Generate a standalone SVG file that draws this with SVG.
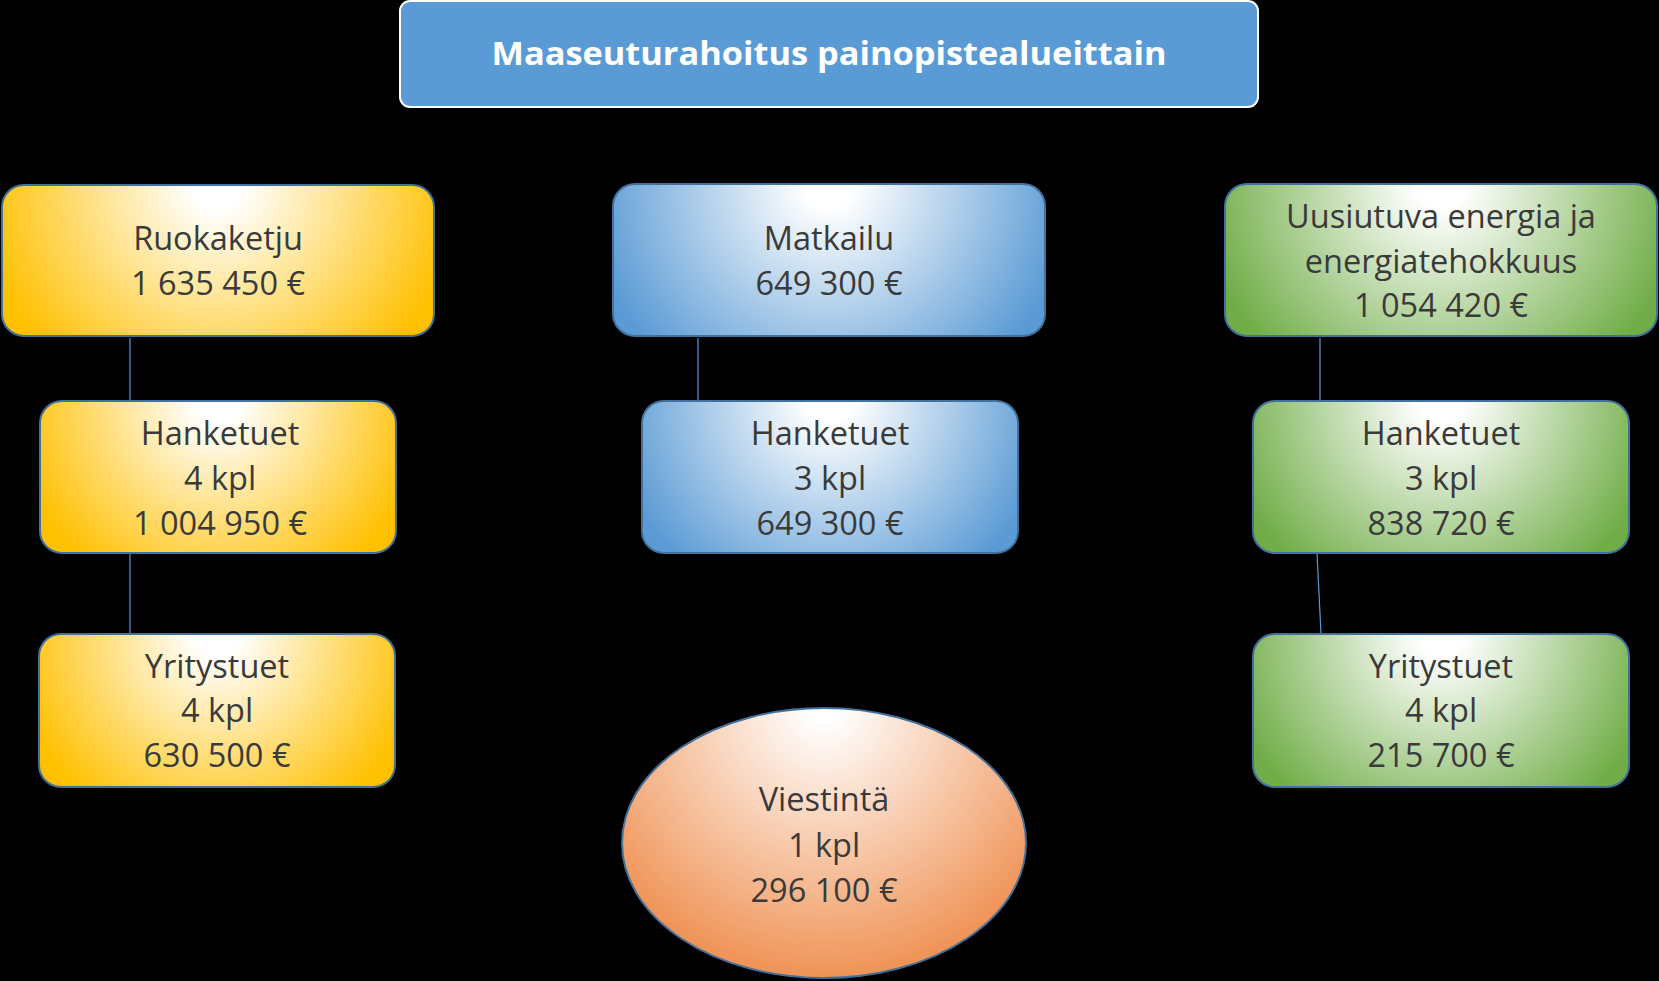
<svg xmlns="http://www.w3.org/2000/svg" width="1659" height="981" viewBox="0 0 1659 981">
<defs>
<radialGradient id="gY" cx="0.5" cy="0" r="0.556" gradientTransform="translate(0.5 0) scale(1 2.84) translate(-0.5 0)"><stop offset="0" stop-color="#ffffff"/><stop offset="0.1" stop-color="#ffffff"/><stop offset="1" stop-color="#ffc000"/></radialGradient>
<radialGradient id="gY2" cx="0.5" cy="0" r="0.58" gradientTransform="translate(0.5 0) scale(1 2.4) translate(-0.5 0)"><stop offset="0" stop-color="#ffffff"/><stop offset="0.1" stop-color="#ffffff"/><stop offset="1" stop-color="#ffc000"/></radialGradient>
<radialGradient id="gB" cx="0.5" cy="0" r="0.556" gradientTransform="translate(0.5 0) scale(1 2.84) translate(-0.5 0)"><stop offset="0" stop-color="#ffffff"/><stop offset="0.1" stop-color="#ffffff"/><stop offset="1" stop-color="#5b9bd5"/></radialGradient>
<radialGradient id="gB2" cx="0.5" cy="0" r="0.58" gradientTransform="translate(0.5 0) scale(1 2.47) translate(-0.5 0)"><stop offset="0" stop-color="#ffffff"/><stop offset="0.1" stop-color="#ffffff"/><stop offset="1" stop-color="#5b9bd5"/></radialGradient>
<radialGradient id="gG" cx="0.5" cy="0" r="0.556" gradientTransform="translate(0.5 0) scale(1 2.84) translate(-0.5 0)"><stop offset="0" stop-color="#ffffff"/><stop offset="0.1" stop-color="#ffffff"/><stop offset="1" stop-color="#70ad47"/></radialGradient>
<radialGradient id="gG2" cx="0.5" cy="0" r="0.58" gradientTransform="translate(0.5 0) scale(1 2.47) translate(-0.5 0)"><stop offset="0" stop-color="#ffffff"/><stop offset="0.1" stop-color="#ffffff"/><stop offset="1" stop-color="#70ad47"/></radialGradient>
<radialGradient id="gO" cx="0.5" cy="0" r="0.69" gradientTransform="translate(0.5 0) scale(1 1.5) translate(-0.5 0)"><stop offset="0" stop-color="#ffffff"/><stop offset="0.05" stop-color="#ffffff"/><stop offset="1" stop-color="#ef8f50"/></radialGradient>
</defs>
<style>
.box{stroke:#41719c;stroke-width:2}
.t{font-family:"Open Sans","Liberation Sans",sans-serif;font-size:32.5px;fill:#3a3a3a;text-anchor:middle}
.title{font-family:"Open Sans","Liberation Sans",sans-serif;font-weight:bold;font-size:33px;fill:#ffffff;text-anchor:middle}
.c{stroke:#5b9bd5;stroke-width:1.2;fill:none}
</style>
<rect width="1659" height="981" fill="#000000"/>
<g id="connectors">
<line class="c" x1="130" y1="338" x2="130" y2="401"/>
<line class="c" x1="130" y1="553" x2="130" y2="634"/>
<line class="c" x1="698" y1="338" x2="698" y2="401"/>
<line class="c" x1="1320" y1="338" x2="1320" y2="407"/>
<line class="c" x1="1317" y1="553" x2="1321" y2="634"/>
</g>
<g id="title">
<rect x="400" y="1" width="858" height="106" rx="10" fill="#5b9bd5" stroke="#ffffff" stroke-width="2"/>
<text class="title" x="829" y="65" textLength="675" lengthAdjust="spacingAndGlyphs">Maaseuturahoitus painopistealueittain</text>
</g>
<g id="ruokaketju">
<rect class="box" x="2" y="185" width="432" height="151" rx="22" fill="url(#gY)"/>
<text class="t" x="218" y="250">Ruokaketju</text>
<text class="t" x="218" y="295">1 635 450 €</text>
</g>
<g id="hanketuet-ruoka">
<rect class="box" x="40" y="401" width="356" height="152" rx="22" fill="url(#gY2)"/>
<text class="t" x="220" y="445">Hanketuet</text>
<text class="t" x="220" y="490">4 kpl</text>
<text class="t" x="220" y="535">1 004 950 €</text>
</g>
<g id="yritystuet-ruoka">
<rect class="box" x="39" y="634" width="356" height="153" rx="22" fill="url(#gY2)"/>
<text class="t" x="217" y="678">Yritystuet</text>
<text class="t" x="217" y="722">4 kpl</text>
<text class="t" x="217" y="767">630 500 €</text>
</g>
<g id="matkailu">
<rect class="box" x="613" y="184" width="432" height="152" rx="22" fill="url(#gB)"/>
<text class="t" x="829" y="250">Matkailu</text>
<text class="t" x="829" y="295">649 300 €</text>
</g>
<g id="hanketuet-matkailu">
<rect class="box" x="642" y="401" width="376" height="152" rx="22" fill="url(#gB2)"/>
<text class="t" x="830" y="445">Hanketuet</text>
<text class="t" x="830" y="490">3 kpl</text>
<text class="t" x="830" y="535">649 300 €</text>
</g>
<g id="uusiutuva">
<rect class="box" x="1225" y="184" width="432" height="152" rx="22" fill="url(#gG)"/>
<text class="t" x="1441" y="228">Uusiutuva energia ja</text>
<text class="t" x="1441" y="273">energiatehokkuus</text>
<text class="t" x="1441" y="317">1 054 420 €</text>
</g>
<g id="hanketuet-energia">
<rect class="box" x="1253" y="401" width="376" height="152" rx="22" fill="url(#gG2)"/>
<text class="t" x="1441" y="445">Hanketuet</text>
<text class="t" x="1441" y="490">3 kpl</text>
<text class="t" x="1441" y="535">838 720 €</text>
</g>
<g id="yritystuet-energia">
<rect class="box" x="1253" y="634" width="376" height="153" rx="22" fill="url(#gG2)"/>
<text class="t" x="1441" y="678">Yritystuet</text>
<text class="t" x="1441" y="722">4 kpl</text>
<text class="t" x="1441" y="767">215 700 €</text>
</g>
<g id="viestinta">
<ellipse class="box" cx="824" cy="843" rx="202" ry="135" fill="url(#gO)"/>
<text class="t" x="824" y="811">Viestintä</text>
<text class="t" x="824" y="857">1 kpl</text>
<text class="t" x="824" y="902">296 100 €</text>
</g>
</svg>
